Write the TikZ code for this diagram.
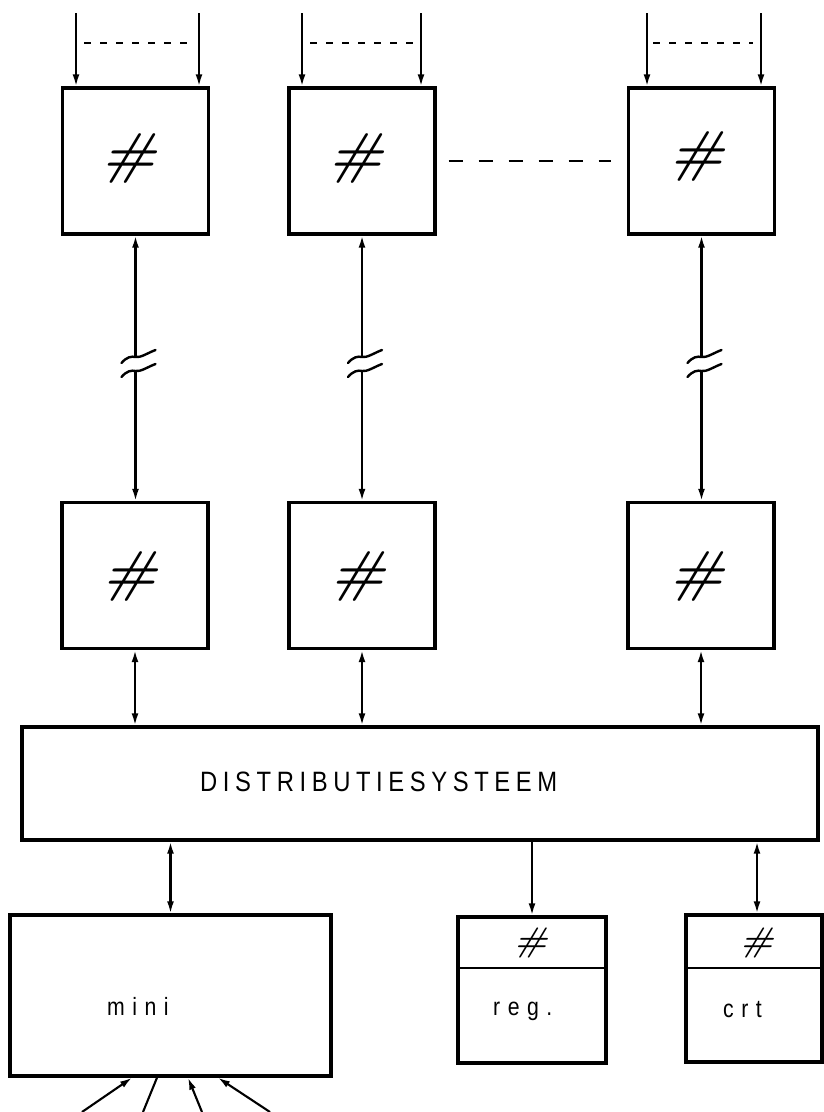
\documentclass[tikz,border=0pt]{standalone}
\usepackage{fontspec}
\usetikzlibrary{arrows.meta}
\newfontfamily\capsfont[FakeStretch=0.85,LetterSpace=20]{Liberation Sans}
\newfontfamily\lowfont[FakeStretch=0.85,LetterSpace=30]{Liberation Sans}

\tikzset{
  >={Latex[length=12pt,width=7pt]},
  box/.style={draw, line width=3.4pt, inner sep=0pt},
  unit/.style={box, minimum width=146pt, minimum height=146pt},
  conn/.style={line width=2.1pt},
  hashmark/.style={inner sep=0pt, xslant=0.3, transform shape, font=\bfseries\fontsize{56}{56}\selectfont},
  smallhash/.style={inner sep=0pt, xslant=0.3, transform shape, font=\bfseries\fontsize{34}{34}\selectfont},
  wave/.style={line width=2.4pt, line cap=round},
  topdash/.style={line width=1.5pt, dash pattern=on 7pt off 9pt},
  middash/.style={line width=1.8pt, dash pattern=on 14pt off 16pt},
  caplabel/.style={inner sep=0pt, anchor=base west, font=\capsfont\fontsize{28}{28}\selectfont},
  lowlabel/.style={inner sep=0pt, anchor=base west, font=\lowfont\fontsize{25}{25}\selectfont},
  brk/.pic={\draw[wave] (-14,6) .. controls (-9,0) and (-4,-1) .. (0,0)
                          .. controls (5,1) and (12,-4) .. (20,-7);}
}

\begin{document}
\begin{tikzpicture}[x=1pt,y=-1pt]
\useasboundingbox (0,0) rectangle (824,1112);

% upper row of units
\node[unit] (t1) at (135.5,161) {};
\node[unit] (t2) at (362,161) {};
\node[unit] (t3) at (701.5,161) {};
\node[hashmark] (ht1) at (133,158) {\#};
\node[hashmark] (ht2) at (360,158) {\#};
\node[hashmark] (ht3) at (701,156) {\#};

% incoming lines on top of each upper unit
\coordinate (a11) at (76,13);  \coordinate (a12) at (199,13);
\coordinate (a21) at (302,13); \coordinate (a22) at (421,13);
\coordinate (a31) at (647,13); \coordinate (a32) at (761,13);
\foreach \c/\u in {a11/t1,a12/t1,a21/t2,a22/t2,a31/t3,a32/t3}
  \draw[conn,->] (\c) -- (\c |- \u.north);
\coordinate (d11) at (84,43);  \coordinate (d12) at (190,43);
\coordinate (d21) at (310,43); \coordinate (d22) at (413,43);
\coordinate (d31) at (653,43); \coordinate (d32) at (753,43);
\draw[topdash] (d11) -- (d12);
\draw[topdash] (d21) -- (d22);
\draw[topdash] (d31) -- (d32);

% continuation between the upper units
\draw[middash] ([xshift=12pt]t2.east) -- ([xshift=-16pt]t3.west);

% middle row of units
\node[unit] (m1) at (135,575.5) {};
\node[unit] (m2) at (362,575.5) {};
\node[unit] (m3) at (701,575.5) {};
\node[hashmark] (hm1) at (134,576) {\#};
\node[hashmark] (hm2) at (362,576) {\#};
\node[hashmark] (hm3) at (701,576) {\#};

% long links with interruption marks
\foreach \u/\m/\k in {t1/m1/1,t2/m2/2,t3/m3/3}{
  \coordinate (bu\k) at (\u.south |- 0,357);
  \coordinate (bd\k) at (\u.south |- 0,371);
  \draw[conn,->] (bu\k) -- (\u.south);
  \draw[conn,->] (bd\k) -- (bd\k |- \m.north);
  \pic at (bu\k) {brk};
  \pic at (bd\k) {brk};
}

% distribution system
\node[box, minimum width=796pt, minimum height=113pt] (dist) at (420,783.5) {};
\node[caplabel] (distlabel) at (200,791) {DISTRIBUTIESYSTEEM};
\foreach \m in {m1,m2,m3}
  \draw[conn,<->] (\m.south) -- (\m.south |- dist.north);

% lower units
\node[box, minimum width=321pt, minimum height=161pt] (mini) at (170.5,995.5) {};
\node[lowlabel] (minilabel) at (107,1015) {mini};

\node[box, minimum width=148pt, minimum height=146pt] (reg) at (532,990) {};
\draw[line width=2.8pt] (reg.west |- 0,968) -- (reg.east |- 0,968);
\node[smallhash] (hreg) at (533,943) {\#};
\node[lowlabel] (reglabel) at (493,1015) {reg.};

\node[box, minimum width=136pt, minimum height=147pt] (crt) at (754,988.5) {};
\draw[line width=2.8pt] (crt.west |- 0,968) -- (crt.east |- 0,968);
\node[smallhash] (hcrt) at (759,943) {\#};
\node[lowlabel] (crtlabel) at (723,1017) {crt};

\draw[conn,<->] (mini.north |- dist.south) -- (mini.north);
\draw[conn,->] (reg.north |- dist.south) -- (reg.north);
\coordinate (cx) at (757,0);
\draw[conn,<->] (cx |- dist.south) -- (cx |- crt.north);

% inputs of the mini computer
\coordinate (f1) at (82,1112);  \coordinate (e1) at (132,1076);
\coordinate (f2) at (143,1112); \coordinate (e2) at (157,1076);
\coordinate (f3) at (202,1112); \coordinate (e3) at (188,1076);
\coordinate (f4) at (270,1112); \coordinate (e4) at (218,1076);
\draw[conn,->] (f1) -- (e1 |- mini.south);
\draw[conn] (f2) -- (e2 |- mini.south);
\draw[conn,->] (f3) -- (e3 |- mini.south);
\draw[conn,->] (f4) -- (e4 |- mini.south);
\end{tikzpicture}
\end{document}
